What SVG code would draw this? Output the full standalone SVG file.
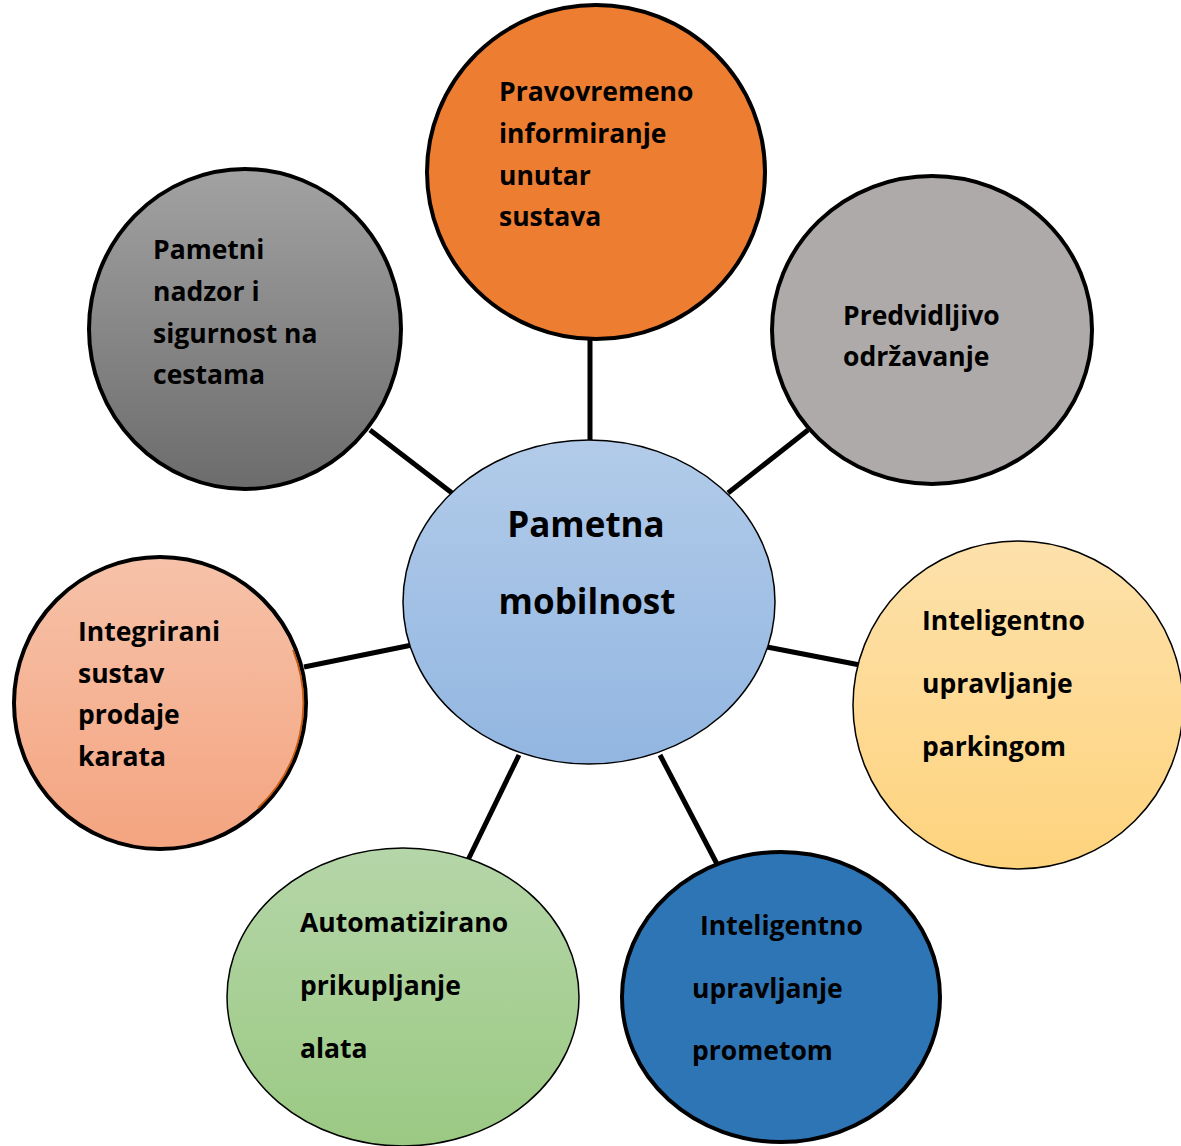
<svg xmlns="http://www.w3.org/2000/svg" width="1181" height="1146" viewBox="0 0 1181 1146">
  <defs>
    <linearGradient id="gDark" x1="0" y1="0" x2="0" y2="1">
      <stop offset="0" stop-color="#a2a2a2"/>
      <stop offset="1" stop-color="#6c6c6c"/>
    </linearGradient>
    <linearGradient id="gBlue" x1="0" y1="0" x2="0" y2="1">
      <stop offset="0" stop-color="#b2cbe9"/>
      <stop offset="1" stop-color="#92b6e1"/>
    </linearGradient>
    <linearGradient id="gYellow" x1="0" y1="0" x2="0" y2="1">
      <stop offset="0" stop-color="#fde1ab"/>
      <stop offset="1" stop-color="#fed37d"/>
    </linearGradient>
    <linearGradient id="gSalmon" x1="0" y1="0" x2="0" y2="1">
      <stop offset="0" stop-color="#f6c2a9"/>
      <stop offset="1" stop-color="#f4a480"/>
    </linearGradient>
    <linearGradient id="gGreen" x1="0" y1="0" x2="0" y2="1">
      <stop offset="0" stop-color="#b5d6a8"/>
      <stop offset="1" stop-color="#9bc983"/>
    </linearGradient>
  </defs>
  <style>
    .thick { stroke: #000; stroke-width: 4; }
    .thin { stroke: #000; stroke-width: 1.5; }
    .lbl { font-family: "Open Sans", "Liberation Sans", sans-serif; font-weight: bold; font-size: 26.5px; fill: #000; }
    .big { font-family: "Open Sans", "Liberation Sans", sans-serif; font-weight: bold; font-size: 35px; fill: #000; text-anchor: middle; }
    .conn line { stroke: #000; stroke-width: 5; stroke-linecap: butt; }
  </style>
  <rect width="1181" height="1146" fill="#fff"/>
  <g id="connectors" class="conn">
    <line x1="590" y1="336" x2="590" y2="442"/>
    <line x1="370" y1="430" x2="452" y2="493"/>
    <line x1="808" y1="430" x2="728" y2="493"/>
    <line x1="304" y1="667" x2="412" y2="645"/>
    <line x1="767" y1="647" x2="860" y2="665"/>
    <line x1="519" y1="755" x2="468" y2="860"/>
    <line x1="660" y1="755" x2="717" y2="864"/>
  </g>
  <g id="node-pravovremeno">
    <ellipse cx="596" cy="172" rx="169" ry="167" fill="#ed7d31" class="thick"/>
    <text class="lbl" x="499" y="101">Pravovremeno</text>
    <text class="lbl" x="499" y="143">informiranje</text>
    <text class="lbl" x="499" y="185">unutar</text>
    <text class="lbl" x="499" y="226">sustava</text>
  </g>
  <g id="node-nadzor">
    <ellipse cx="245" cy="329" rx="156" ry="160" fill="url(#gDark)" class="thick"/>
    <text class="lbl" x="153" y="259">Pametni</text>
    <text class="lbl" x="153" y="301">nadzor i</text>
    <text class="lbl" x="153" y="343">sigurnost na</text>
    <text class="lbl" x="153" y="384">cestama</text>
  </g>
  <g id="node-odrzavanje">
    <ellipse cx="932" cy="330" rx="160" ry="154" fill="#aeaaa9" class="thick"/>
    <text class="lbl" x="843" y="325">Predvidljivo</text>
    <text class="lbl" x="843" y="366">održavanje</text>
  </g>
  <g id="node-center">
    <ellipse cx="589" cy="602" rx="186" ry="162" fill="url(#gBlue)" class="thin"/>
    <text class="big" x="586" y="537">Pametna</text>
    <text class="big" x="587" y="614">mobilnost</text>
  </g>
  <g id="node-parking">
    <ellipse cx="1018" cy="705" rx="165" ry="164" fill="url(#gYellow)" class="thin"/>
    <text class="lbl" x="922" y="630">Inteligentno</text>
    <text class="lbl" x="922" y="693">upravljanje</text>
    <text class="lbl" x="922" y="756">parkingom</text>
  </g>
  <g id="node-karte">
    <ellipse cx="160" cy="703" rx="146" ry="146" fill="url(#gSalmon)" class="thick"/>
    <path d="M 293 650 A 143.5 143.5 0 0 1 258 808" fill="none" stroke="#c55a11" stroke-width="1.8"/>
    <text class="lbl" x="78" y="641">Integrirani</text>
    <text class="lbl" x="78" y="683">sustav</text>
    <text class="lbl" x="78" y="724">prodaje</text>
    <text class="lbl" x="78" y="766">karata</text>
  </g>
  <g id="node-alata">
    <ellipse cx="403" cy="997" rx="176" ry="149" fill="url(#gGreen)" class="thin"/>
    <text class="lbl" x="300" y="932">Automatizirano</text>
    <text class="lbl" x="300" y="995">prikupljanje</text>
    <text class="lbl" x="300" y="1058">alata</text>
  </g>
  <g id="node-promet">
    <ellipse cx="781" cy="997" rx="159" ry="145" fill="#2e75b6" class="thick"/>
    <text class="lbl" x="700" y="935">Inteligentno</text>
    <text class="lbl" x="692" y="998">upravljanje</text>
    <text class="lbl" x="692" y="1060">prometom</text>
  </g>
</svg>
